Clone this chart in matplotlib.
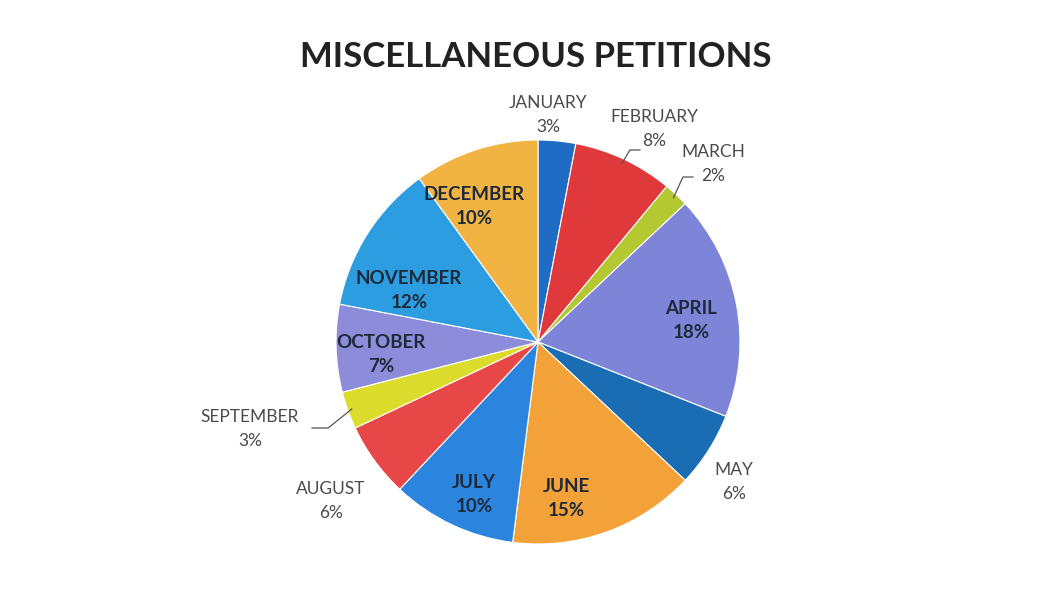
import matplotlib.pyplot as plt
import numpy as np

months = ['JANUARY', 'FEBRUARY', 'MARCH', 'APRIL', 'MAY', 'JUNE',
          'JULY', 'AUGUST', 'SEPTEMBER', 'OCTOBER', 'NOVEMBER', 'DECEMBER']
shares = [3, 8, 2, 18, 6, 15, 10, 6, 3, 7, 12, 10]
colors = ['#1f6cc4', '#e0393b', '#b4c832', '#7e85d8', '#1b6db3', '#f2a239',
          '#2b85df', '#e84747', '#dcdc2c', '#8c8cda', '#2c9de0', '#f1b442']

# label layout in pixels (x, y from top), inside labels are bold
label_pos = {'JANUARY': (548, 115), 'FEBRUARY': (654, 129), 'MARCH': (713, 164),
             'APRIL': (691, 321), 'MAY': (734, 482), 'JUNE': (566, 498),
             'JULY': (474, 495), 'AUGUST': (331, 501), 'SEPTEMBER': (250, 429),
             'OCTOBER': (381, 355), 'NOVEMBER': (409, 290), 'DECEMBER': (474, 207)}
inside = ['APRIL', 'JUNE', 'JULY', 'OCTOBER', 'NOVEMBER', 'DECEMBER']
leaders = {'FEBRUARY': (640, 150), 'MARCH': (693, 177), 'SEPTEMBER': (312, 428)}

W, H = 1051, 598
cx, cy, R = 538, 342, 202

plt.rcParams['font.family'] = ['Lato', 'DejaVu Sans']
fig = plt.figure(figsize=(W / 100, H / 100), dpi=100)
ax = fig.add_axes([0, 0, 1, 1])


def px(x, y):
    return (x - cx) / R, (cy - y) / R


wedges, _ = ax.pie(shares, colors=colors, startangle=90, counterclock=False,
                   radius=1, center=(0, 0), frame=True,
                   wedgeprops=dict(edgecolor='white', linewidth=0.8))
ax.set_xlim(-cx / R, (W - cx) / R)
ax.set_ylim(-(H - cy) / R, cy / R)
ax.axis('off')

for name, val, w in zip(months, shares, wedges):
    x, y = px(*label_pos[name])
    txt = name + '\n' + str(val) + '%'
    if name in inside:
        ax.text(x, y, txt, ha='center', va='center', fontsize=13.5,
                fontweight='bold', color='#1e2a3a', linespacing=1.5)
    else:
        ax.text(x, y, txt, ha='center', va='center', fontsize=12.5,
                color='#4a4a4a', linespacing=1.65)
    if name in leaders:
        mid = np.deg2rad((w.theta1 + w.theta2) / 2)
        ex, ey = 0.98 * np.cos(mid), 0.98 * np.sin(mid)
        lx, ly = px(*leaders[name])
        if name == 'SEPTEMBER':
            ax.plot([lx, lx + 0.08, ex], [ly, ly, ey], color='#555555', lw=0.9)
        else:
            ax.plot([lx, lx - 0.05, ex], [ly, ly, ey], color='#555555', lw=0.9)

tx, ty = px(536, 57)
ax.text(tx, ty, 'MISCELLANEOUS PETITIONS', ha='center', va='center',
        fontsize=25, fontweight='bold', color='#222222')

plt.savefig('out.png', dpi=100)
